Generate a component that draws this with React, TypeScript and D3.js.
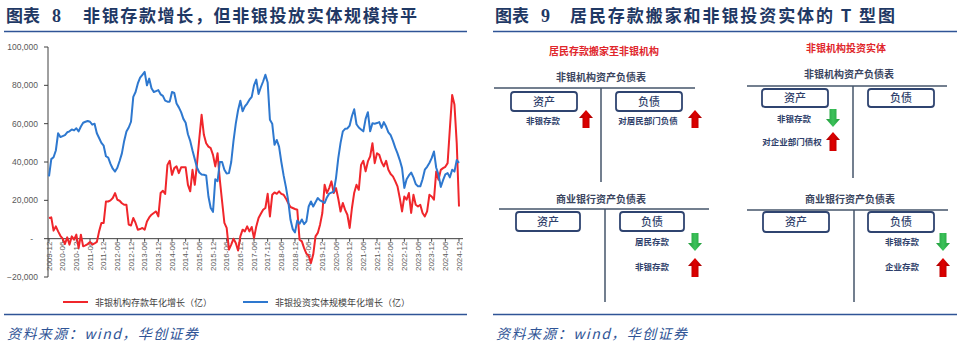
import React, { useEffect, useRef } from 'react';
import * as d3 from 'd3';

// monthly categories 2009-12 .. 2024-12
const months = d3.timeMonth
  .range(new Date(2009, 11, 1), new Date(2025, 0, 1))
  .map(d3.timeFormat('%Y-%m'));

const tickLabels = [
  '2009-12', '2010-06', '2010-12', '2011-06', '2011-12', '2012-06', '2012-12', '2013-06',
  '2013-12', '2014-06', '2014-12', '2015-06', '2015-12', '2016-06', '2016-12', '2017-06',
  '2017-12', '2018-06', '2018-12', '2019-06', '2019-12', '2020-06', '2020-12', '2021-06',
  '2021-12', '2022-06', '2022-12', '2023-06', '2023-12', '2024-06', '2024-12',
];

const yTicks = [-20000, 0, 20000, 40000, 60000, 80000, 100000];

const seriesNames = ['非银机构存款年化增长（亿）', '非银投资实体规模年化增长（亿）'];

// 非银机构存款年化增长（亿）
const depositGrowth = [
  10800,
  11100, 4200, 6400, 3800, 1500, 0, -2800, 700, -3100, 1200, -500, 2100,
  -4900, 2100, -4000, -3500, -2800, -1700, -3100, -2500, -1700, 3800, 8200, 8200,
  19400, 19400, 20000, 21200, 23800, 20300, 19800, 18500, 17700, 17700, 7300, 6900,
  10800, 8200, 4700, 5000, 5600, 4700, 9000, 11100, 12500, 13400, 14200, 11600,
  23800, 25000, 23300, 38500, 40600, 33300, 36800, 37700, 34200, 37200, 37200, 37200,
  28100, 24700, 35900, 28100, 39400, 52400, 64600, 54200, 49800, 48000, 47200, 43700,
  37700, 44600, 30700, 19400, 8200, 5600, -5700, -3100, 0, -2300, -6200, 1200,
  4700, 3800, 6400, 3800, 6100, 300, 6400, 10800, 13000, 15100, 16000, 23400,
  11600, 22900, 24100, 23400, 24700, 23400, 22900, 21000, 18600, 16500, 16000, 15500,
  15100, -500, -1400, -4900, -7800, -8900, -12700, -8300, 1200, 3000, 7300, 13400,
  28100, 23800, 26400, 29900, 23800, 26400, 20800, 14200, 18600, 15000, 12500, 5600,
  16000, 24000, 28100, 25500, 38500, 40600, 35100, 40300, 42900, 49800, 39400, 44600,
  43700, 40000, 37700, 40600, 36000, 33700, 32500, 30000, 27300, 21200, 14200, 22000,
  20300, 23800, 13400, 22900, 17700, 16800, 17700, 13400, 11600, 14200, 22900, 22000,
  20300, 35100, 30700, 35900, 36800, 37500, 39400, 57600, 75000, 70000, 50000, 16800,
];

// 非银投资实体规模年化增长（亿）
const investGrowth = [
  32500,
  41500, 42500, 46000, 55000, 53000, 53500, 54000, 55500, 56000, 57000, 56500, 57600,
  56000, 58500, 60500, 61000, 61400, 61000, 59500, 60000, 55000, 52500, 50000, 48500,
  43000, 42300, 39000, 36500, 35000, 37000, 40500, 44500, 51000, 55900, 58000, 61000,
  74000, 76500, 81000, 84000, 85500, 87000, 80000, 83500, 78500, 76500, 77000, 77500,
  75300, 74500, 72000, 71500, 71500, 76500, 76000, 70500, 68500, 66000, 62500, 60500,
  54500, 51000, 46000, 41500, 37000, 34500, 33500, 33300, 33000, 22000, 16000, 14000,
  31000, 30000, 40000, 40000, 36000, 34000, 34200, 40000, 51000, 60000, 67000, 72000,
  66500, 69000, 70500, 72500, 74000, 80000, 83000, 75500, 79000, 82000, 85500, 81500,
  62000, 60000, 49000, 51500, 48000, 40000, 33000, 27000, 20000, 10000, 5000, 3300,
  9500, 7800, 10000, 7600, 9000, 16800, 19400, 16800, 19000, 21200, 20000, 19400,
  18600, 21500, 23500, 24000, 24500, 31600, 42000, 50000, 56000, 57300, 57500, 59000,
  64000, 67500, 59700, 58000, 57000, 56000, 62500, 66000, 56000, 60200, 60000, 60300,
  60800, 57800, 60800, 58500, 55500, 54000, 51000, 47500, 44500, 41000, 36800, 26500,
  31000, 33000, 34500, 32000, 28500, 27300, 27300, 31000, 36000, 37500, 39500, 42000,
  45500, 37000, 33500, 27000, 30500, 33500, 34200, 32000, 36000, 35000, 41000, 39500,
];

const RED = '#f0262b';
const BLUE = '#2e78cf';
const NAVY = '#1f3864';
const RULE = '#2f5496';
const INK = '#2f3f6b';
const CJK = "'Noto Sans CJK SC', 'Noto Sans', sans-serif";
const NUM = "'Liberation Sans', Arial, sans-serif";

type Item = { label: string; tx: number; ty: number; dir: 'up' | 'down'; ax: number; ay0: number; ay1: number };
type TBox = {
  title: string; titleX: number; titleY: number;
  lineY: number; x0: number; x1: number; vx: number; vBottom: number;
  boxY: number; boxH: number; assetX: number; liabX: number; boxW: number;
  items: Item[];
};

const tBoxes: TBox[] = [
  {
    title: '非银机构资产负债表', titleX: 601, titleY: 81,
    lineY: 88, x0: 494, x1: 695, vx: 601, vBottom: 182,
    boxY: 92, boxH: 19, assetX: 511, liabX: 616, boxW: 66,
    items: [
      { label: '非银存款', tx: 543, ty: 124, dir: 'up', ax: 586, ay0: 110, ay1: 128 },
      { label: '对居民部门负债', tx: 648, ty: 124, dir: 'up', ax: 695, ay0: 110, ay1: 128 },
    ],
  },
  {
    title: '非银机构资产负债表', titleX: 849, titleY: 78,
    lineY: 86, x0: 747, x1: 947, vx: 853, vBottom: 178,
    boxY: 89, boxH: 18, assetX: 762, liabX: 868, boxW: 66,
    items: [
      { label: '非银存款', tx: 794, ty: 122, dir: 'down', ax: 833, ay0: 109, ay1: 127 },
      { label: '对企业部门债权', tx: 792, ty: 145, dir: 'up', ax: 833, ay0: 132, ay1: 151 },
    ],
  },
  {
    title: '商业银行资产负债表', titleX: 601, titleY: 203,
    lineY: 209, x0: 499, x1: 709, vx: 605, vBottom: 302,
    boxY: 212, boxH: 19, assetX: 516, liabX: 620, boxW: 64,
    items: [
      { label: '居民存款', tx: 652, ty: 245, dir: 'down', ax: 695, ay0: 233, ay1: 251 },
      { label: '非银存款', tx: 652, ty: 270, dir: 'up', ax: 695, ay0: 258, ay1: 277 },
    ],
  },
  {
    title: '商业银行资产负债表', titleX: 850, titleY: 203,
    lineY: 210, x0: 747, x1: 948, vx: 854, vBottom: 302,
    boxY: 212, boxH: 20, assetX: 763, liabX: 868, boxW: 66,
    items: [
      { label: '非银存款', tx: 902, ty: 245, dir: 'down', ax: 943, ay0: 233, ay1: 251 },
      { label: '企业存款', tx: 902, ty: 270, dir: 'up', ax: 943, ay0: 258, ay1: 277 },
    ],
  },
];

function arrowPath(cx: number, y0: number, y1: number, dir: 'up' | 'down') {
  const hw = 7, sw = 3.5, hh = 8;
  if (dir === 'up') {
    return `M${cx},${y0} L${cx + hw},${y0 + hh} L${cx + sw},${y0 + hh} L${cx + sw},${y1} L${cx - sw},${y1} L${cx - sw},${y0 + hh} L${cx - hw},${y0 + hh} Z`;
  }
  return `M${cx},${y1} L${cx + hw},${y1 - hh} L${cx + sw},${y1 - hh} L${cx + sw},${y0} L${cx - sw},${y0} L${cx - sw},${y1 - hh} L${cx - hw},${y1 - hh} Z`;
}

const LineChart: React.FC = () => {
  const gRef = useRef<SVGGElement>(null);

  useEffect(() => {
    if (!gRef.current) return;
    const g = d3.select(gRef.current);
    g.selectAll('*').remove();

    const x = d3.scalePoint<string>().domain(months).range([49, 459]);
    const y = d3.scaleLinear().domain([-20000, 100000]).range([277, 47]);

    // y axis
    g.append('line')
      .attr('x1', 48).attr('x2', 48)
      .attr('y1', y(-20000)).attr('y2', y(100000))
      .attr('stroke', '#404040').attr('stroke-width', 1);

    g.selectAll('.ytick')
      .data(yTicks)
      .enter()
      .append('line')
      .attr('x1', 44).attr('x2', 48)
      .attr('y1', d => y(d)).attr('y2', d => y(d))
      .attr('stroke', '#404040');

    g.selectAll('.ylabel')
      .data(yTicks)
      .enter()
      .append('text')
      .attr('x', d => (d === 0 ? 33 : 38))
      .attr('y', d => y(d) + 3)
      .attr('text-anchor', 'end')
      .style('font-family', NUM)
      .style('font-size', '8.5px')
      .style('fill', '#595959')
      .text(d => (d === 0 ? '-' : d3.format(',')(d)));

    // x axis
    g.append('line')
      .attr('x1', 48).attr('x2', 463)
      .attr('y1', y(0)).attr('y2', y(0))
      .attr('stroke', '#404040').attr('stroke-width', 1);

    g.selectAll('.xtick')
      .data(tickLabels)
      .enter()
      .append('line')
      .attr('x1', d => x(d)!).attr('x2', d => x(d)!)
      .attr('y1', y(0)).attr('y2', y(0) + 3)
      .attr('stroke', '#404040');

    g.selectAll('.xlabel')
      .data(tickLabels)
      .enter()
      .append('text')
      .attr('transform', d => `translate(${x(d)},${y(0) + 3}) rotate(-90)`)
      .attr('text-anchor', 'end')
      .attr('dy', '0.35em')
      .style('font-family', NUM)
      .style('font-size', '8px')
      .style('fill', '#595959')
      .text(d => d);

    const line = d3.line<number>()
      .x((d, i) => x(months[i])!)
      .y(d => y(d));

    g.append('path')
      .datum(depositGrowth)
      .attr('d', line)
      .attr('fill', 'none')
      .attr('stroke', RED)
      .attr('stroke-width', 2)
      .attr('stroke-linejoin', 'round');

    g.append('path')
      .datum(investGrowth)
      .attr('d', line)
      .attr('fill', 'none')
      .attr('stroke', BLUE)
      .attr('stroke-width', 2)
      .attr('stroke-linejoin', 'round');

    // legend
    const legend = [
      { name: seriesNames[0], color: RED, x0: 63 },
      { name: seriesNames[1], color: BLUE, x0: 243 },
    ];
    const lg = g.selectAll('.legend').data(legend).enter().append('g');
    lg.append('line')
      .attr('x1', d => d.x0).attr('x2', d => d.x0 + 25)
      .attr('y1', 302).attr('y2', 302)
      .attr('stroke', d => d.color).attr('stroke-width', 2);
    lg.append('text')
      .attr('x', d => d.x0 + 32)
      .attr('y', 305.5)
      .style('font-family', CJK)
      .style('font-size', '9px')
      .style('fill', '#404040')
      .text(d => d.name);
  }, []);

  return <g ref={gRef} />;
};

const Header: React.FC<{ x: number; num: string; text: string; textX: number; textLen: number; ruleX0: number; ruleX1: number }> = ({ x, num, text, textX, textLen, ruleX0, ruleX1 }) => (
  <g>
    <text x={x} y={22} style={{ fontFamily: CJK, fontSize: 17, fontWeight: 700, fill: NAVY }}>图表</text>
    <text x={x + 46} y={22} style={{ fontFamily: "'Liberation Serif', serif", fontSize: 18, fontWeight: 700, fill: NAVY }}>{num}</text>
    <text x={textX} y={22} textLength={textLen} lengthAdjust="spacing" style={{ fontFamily: CJK, fontSize: 17, fontWeight: 700, fill: NAVY }}>{text}</text>
    <line x1={ruleX0} x2={ruleX1} y1={31.5} y2={31.5} stroke={RULE} strokeWidth={1.6} />
    <line x1={ruleX0} x2={ruleX1} y1={314.5} y2={314.5} stroke={RULE} strokeWidth={1.6} />
    <text x={x + 1} y={339} textLength={191} lengthAdjust="spacing" style={{ fontFamily: CJK, fontSize: 14, fontStyle: 'italic', fill: RULE }}>资料来源：wind，华创证券</text>
  </g>
);

const TDiagram: React.FC<{ t: TBox }> = ({ t }) => (
  <g>
    <text x={t.titleX} y={t.titleY} textAnchor="middle" style={{ fontFamily: CJK, fontSize: 10, fontWeight: 700, fill: '#3a4560' }}>{t.title}</text>
    <line x1={t.x0} x2={t.x1} y1={t.lineY} y2={t.lineY} stroke="#44546a" strokeWidth={1.5} />
    <line x1={t.vx} x2={t.vx} y1={t.lineY} y2={t.vBottom} stroke="#44546a" strokeWidth={1.5} />
    {[{ x: t.assetX, label: '资产' }, { x: t.liabX, label: '负债' }].map(b => (
      <g key={b.label}>
        <rect x={b.x} y={t.boxY} width={t.boxW} height={t.boxH} rx={3} fill="#fff" stroke="#2f4470" strokeWidth={1.8} />
        <text x={b.x + t.boxW / 2} y={t.boxY + t.boxH / 2 + 4} textAnchor="middle" style={{ fontFamily: CJK, fontSize: 11, fontWeight: 500, fill: '#2f3f6b' }}>{b.label}</text>
      </g>
    ))}
    {t.items.map(it => (
      <g key={it.label + it.ty}>
        <text x={it.tx} y={it.ty} textAnchor="middle" style={{ fontFamily: CJK, fontSize: 8.5, fontWeight: 700, fill: INK }}>{it.label}</text>
        <path d={arrowPath(it.ax, it.ay0, it.ay1, it.dir)} fill={it.dir === 'up' ? 'url(#gradRed)' : 'url(#gradGreen)'} />
      </g>
    ))}
  </g>
);

export default function App() {
  return (
    <svg width={960} height={352} style={{ position: 'absolute', left: 0, top: 0, background: '#fff' }}>
      <defs>
        <linearGradient id="gradRed" x1="0" x2="1" y1="0" y2="0">
          <stop offset="0" stopColor="#a80000" />
          <stop offset="0.5" stopColor="#e00000" />
          <stop offset="1" stopColor="#a80000" />
        </linearGradient>
        <linearGradient id="gradGreen" x1="0" x2="1" y1="0" y2="0">
          <stop offset="0" stopColor="#1f9a3a" />
          <stop offset="0.5" stopColor="#3cc25a" />
          <stop offset="1" stopColor="#1f9a3a" />
        </linearGradient>
      </defs>
      <rect width={960} height={352} fill="#fff" />
      <Header x={6} num="8" text="非银存款增长，但非银投放实体规模持平" textX={83} textLen={334} ruleX0={4} ruleX1={467} />
      <Header x={495} num="9" text="居民存款搬家和非银投资实体的 T 型图" textX={570} textLen={325} ruleX0={493} ruleX1={957} />
      <LineChart />
      <text x={604} y={55} textAnchor="middle" style={{ fontFamily: CJK, fontSize: 10, fontWeight: 700, fill: '#e0262b' }}>居民存款搬家至非银机构</text>
      <text x={846} y={52} textAnchor="middle" style={{ fontFamily: CJK, fontSize: 10, fontWeight: 700, fill: '#e0262b' }}>非银机构投资实体</text>
      {tBoxes.map((t, i) => <TDiagram key={i} t={t} />)}
    </svg>
  );
}
